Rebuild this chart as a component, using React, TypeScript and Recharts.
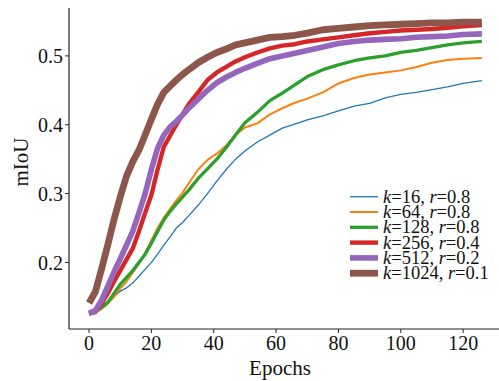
import React from 'react';
import { LineChart, Line, XAxis, YAxis, Legend, Label } from 'recharts';

const epochs = [0, 2, 4, 6, 8, 10, 12, 14, 16, 18, 20, 22, 24, 26, 28, 30, 32, 35, 38, 41, 44, 47, 50, 54, 58, 62, 66, 70, 75, 80, 85, 90, 95, 100, 105, 110, 115, 120, 126];

const k16 = [0.125, 0.127, 0.132, 0.14, 0.15, 0.158, 0.163, 0.17, 0.18, 0.19, 0.2, 0.212, 0.225, 0.237, 0.25, 0.258, 0.268, 0.283, 0.3, 0.318, 0.335, 0.35, 0.362, 0.375, 0.385, 0.395, 0.401, 0.407, 0.413, 0.42, 0.427, 0.431, 0.439, 0.444, 0.447, 0.451, 0.455, 0.46, 0.464];
const k64 = [0.125, 0.127, 0.133, 0.14, 0.15, 0.162, 0.172, 0.185, 0.198, 0.213, 0.232, 0.25, 0.265, 0.278, 0.29, 0.301, 0.315, 0.335, 0.349, 0.358, 0.37, 0.385, 0.396, 0.402, 0.415, 0.424, 0.432, 0.438, 0.447, 0.46, 0.468, 0.473, 0.476, 0.479, 0.484, 0.49, 0.494, 0.496, 0.497];
const k128 = [0.125, 0.128, 0.135, 0.142, 0.155, 0.168, 0.178, 0.188, 0.2, 0.212, 0.228, 0.245, 0.262, 0.274, 0.285, 0.295, 0.305, 0.322, 0.336, 0.35, 0.367, 0.385, 0.403, 0.418, 0.435, 0.446, 0.458, 0.47, 0.48, 0.487, 0.493, 0.497, 0.5, 0.505, 0.508, 0.512, 0.516, 0.519, 0.521];
const k256 = [0.126, 0.128, 0.14, 0.155, 0.172, 0.188, 0.204, 0.22, 0.245, 0.272, 0.298, 0.335, 0.368, 0.384, 0.4, 0.415, 0.43, 0.447, 0.465, 0.476, 0.484, 0.492, 0.498, 0.505, 0.511, 0.515, 0.517, 0.521, 0.524, 0.527, 0.53, 0.533, 0.535, 0.537, 0.538, 0.539, 0.541, 0.543, 0.545];
const k512 = [0.126, 0.13, 0.145, 0.165, 0.186, 0.205, 0.225, 0.245, 0.272, 0.3, 0.335, 0.366, 0.385, 0.397, 0.405, 0.414, 0.424, 0.437, 0.45, 0.461, 0.469, 0.476, 0.482, 0.489, 0.496, 0.5, 0.504, 0.508, 0.513, 0.518, 0.521, 0.523, 0.524, 0.525, 0.527, 0.528, 0.529, 0.531, 0.532];
const k1024 = [0.141, 0.157, 0.19, 0.225, 0.262, 0.295, 0.325, 0.346, 0.363, 0.385, 0.408, 0.43, 0.447, 0.456, 0.465, 0.473, 0.48, 0.49, 0.498, 0.505, 0.51, 0.516, 0.519, 0.523, 0.527, 0.528, 0.53, 0.533, 0.538, 0.54, 0.542, 0.544, 0.545, 0.546, 0.547, 0.548, 0.548, 0.549, 0.549];

const xTicks = [0, 20, 40, 60, 80, 100, 120];
const yTicks = [0.2, 0.3, 0.4, 0.5];

const seriesInfo = [
  { key: 'k16', k: '16', r: '0.8', color: '#1f77b4', width: 1.3 },
  { key: 'k64', k: '64', r: '0.8', color: '#ff7f0e', width: 2 },
  { key: 'k128', k: '128', r: '0.8', color: '#2ca02c', width: 3.3 },
  { key: 'k256', k: '256', r: '0.4', color: '#d62728', width: 4.4 },
  { key: 'k512', k: '512', r: '0.2', color: '#9467bd', width: 5.6 },
  { key: 'k1024', k: '1024', r: '0.1', color: '#8c564b', width: 6.8 },
];

const data = epochs.map((e, i) => ({
  epoch: e,
  k16: k16[i],
  k64: k64[i],
  k128: k128[i],
  k256: k256[i],
  k512: k512[i],
  k1024: k1024[i],
}));

const FONT = '"Liberation Serif", "DejaVu Serif", serif';
const AX = '#222';
const ROW = 15.3;

const renderLegend = () => (
  <svg width={148} height={ROW * seriesInfo.length + 4} style={{ display: 'block', overflow: 'visible' }}>
    {seriesInfo.map((s, i) => {
      const cy = 7.7 + ROW * i;
      return (
        <g key={s.key}>
          <line x1={0} x2={28} y1={cy} y2={cy} stroke={s.color} strokeWidth={s.width} />
          <text x={33} y={cy + 6} fontFamily={FONT} fontSize={18.5} fill="#111">
            <tspan fontStyle="italic">k</tspan>
            <tspan>{`=${s.k}, `}</tspan>
            <tspan fontStyle="italic">r</tspan>
            <tspan>{`=${s.r}`}</tspan>
          </text>
        </g>
      );
    })}
  </svg>
);

const XLabel = () => (
  <text x={280} y={375} textAnchor="middle" fontFamily={FONT} fontSize={21} fill="#111">
    Epochs
  </text>
);

const YLabel = () => (
  <text x={21} y={162} textAnchor="middle" dominantBaseline="central" transform="rotate(-90, 21, 162)" fontFamily={FONT} fontSize={21} fill="#111">
    mIoU
  </text>
);

export default function App() {
  return (
    <div style={{ position: 'absolute', left: 0, top: 0, width: 499, height: 381, background: '#fff', overflow: 'hidden' }}>
      <LineChart width={499} height={381} data={data} margin={{ top: 8, right: 0, bottom: 0, left: 0 }}>
        <XAxis
          dataKey="epoch"
          type="number"
          domain={[-6.42, 131.5]}
          ticks={xTicks}
          allowDataOverflow
          height={52}
          tickSize={4}
          tickMargin={3}
          stroke={AX}
          tickLine={{ stroke: AX }}
          axisLine={{ stroke: AX, strokeWidth: 1.2 }}
          tick={{ fontFamily: FONT, fontSize: 20, fill: '#111' }}
          label={<Label content={<XLabel />} />}
        />
        <XAxis xAxisId="top" orientation="top" dataKey="epoch" type="number" domain={[-6.42, 131.5]} height={0} tick={false} tickLine={false} axisLine={{ stroke: AX, strokeWidth: 1.2 }} />
        <YAxis
          type="number"
          domain={[0.1033, 0.5696]}
          ticks={yTicks}
          allowDataOverflow
          width={69}
          tickSize={4}
          tickMargin={2}
          stroke={AX}
          tickLine={{ stroke: AX }}
          axisLine={{ stroke: AX, strokeWidth: 1.2 }}
          tickFormatter={(v: number) => v.toFixed(1)}
          tick={{ fontFamily: FONT, fontSize: 20, fill: '#111' }}
          label={<Label content={<YLabel />} />}
        />
        <Legend
          layout="vertical"
          align="center"
          verticalAlign="middle"
          content={renderLegend}
          wrapperStyle={{ position: 'absolute', left: 350, top: 189, width: 'auto', height: 'auto' }}
        />
        {seriesInfo.map((s) => (
          <Line
            key={s.key}
            type="linear"
            dataKey={s.key}
            stroke={s.color}
            strokeWidth={s.width}
            dot={false}
            activeDot={false}
            isAnimationActive={false}
            strokeLinejoin="round"
            strokeLinecap="butt"
          />
        ))}
      </LineChart>
    </div>
  );
}
